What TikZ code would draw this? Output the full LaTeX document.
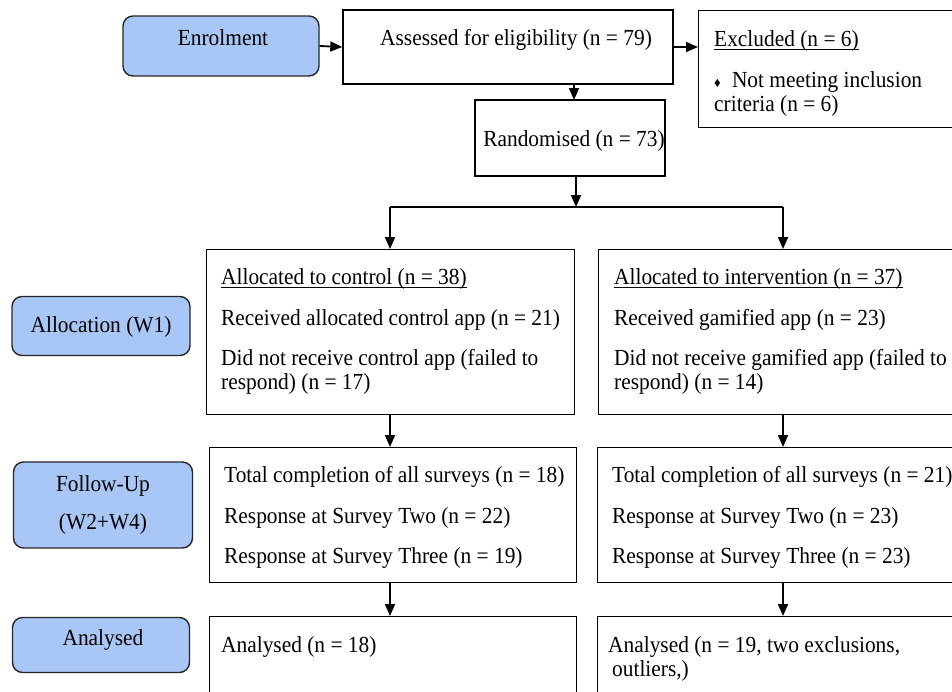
\documentclass[tikz,border=0pt]{standalone}
\usepackage{graphicx}
\usepackage{fontspec}
\setmainfont{Liberation Serif}
\usetikzlibrary{arrows.meta}
\definecolor{stageblue}{RGB}{168,198,246}
\newcommand{\Tx}[1]{\scalebox{0.93}[1]{#1}}
\tikzset{
  box/.style={draw=black, line width=1.4pt, fill=white},
  stage/.style={draw=black!85, line width=1.4pt, fill=stageblue, rounded corners=10pt},
  txt/.style={anchor=base west, inner sep=0pt, font=\fontsize{23}{24}\selectfont},
  ctxt/.style={anchor=base, inner sep=0pt, font=\fontsize{23}{24}\selectfont},
  arr/.style={line width=1.8pt, -{Triangle[length=12pt,width=10pt]}},
  ln/.style={line width=1.8pt},
  uline/.style={line width=1pt}
}
\begin{document}
\begin{tikzpicture}[x=1pt,y=-1pt]
\useasboundingbox (0,0) rectangle (952,691);
\begin{scope}
\clip (0,0) rectangle (952,691);
% stage boxes
\node[stage, minimum width=196pt, minimum height=60pt] (enr) at (221,46) {};
\node[stage, minimum width=178pt, minimum height=59pt] (alloc) at (101,326) {};
\node[stage, minimum width=179pt, minimum height=86pt] (fup) at (103,505) {};
\node[stage, minimum width=177pt, minimum height=55pt] (ana) at (101,645) {};
% main boxes
\node[box, minimum width=330pt, minimum height=74pt] (assess) at (508,47) {};
\node[box, minimum width=270pt, minimum height=117pt, anchor=north west] (excl) at (698,10) {};
\node[box, minimum width=190pt, minimum height=76pt] (rand) at (570,138) {};
\node[box, minimum width=368pt, minimum height=165pt, anchor=north west] (ctrl) at (206,249) {};
\node[box, minimum width=370pt, minimum height=165pt, anchor=north west] (intv) at (598,249) {};
\node[box, minimum width=367pt, minimum height=135pt, anchor=north west] (fc) at (209,447) {};
\node[box, minimum width=370pt, minimum height=135pt, anchor=north west] (fi) at (597,447) {};
\node[box, minimum width=367pt, minimum height=100pt, anchor=north west] (ac) at (209,616) {};
\node[box, minimum width=370pt, minimum height=100pt, anchor=north west] (ai) at (597,616) {};
\end{scope}
% texts
\node[ctxt] (tenr) at (223,45) {\Tx{Enrolment}};
\node[txt] (tass) at (380,45) {\Tx{Assessed for eligibility (n = 79)}};
\node[txt] (tex1) at (714,46) {\Tx{Excluded (n = 6)}};
\node[txt] (tex2) at (714,87) {\Tx{{\fontsize{14}{14}\selectfont ♦}\hspace{12pt}Not meeting inclusion}};
\node[txt] (tex3) at (714,111) {\Tx{criteria (n = 6)}};
\node[ctxt] (trand) at (574,146) {\Tx{Randomised (n = 73)}};
\node[ctxt] (talloc) at (101,332) {\Tx{Allocation (W1)}};
\node[txt] (tc1) at (221,284) {\Tx{Allocated to control (n = 38)}};
\node[txt] (tc2) at (221,325) {\Tx{Received allocated control app (n = 21)}};
\node[txt] (tc3) at (221,365) {\Tx{Did not receive control app (failed to}};
\node[txt] (tc4) at (221,389) {\Tx{respond) (n = 17)}};
\node[txt] (ti1) at (614,284) {\Tx{Allocated to intervention (n = 37)}};
\node[txt] (ti2) at (614,325) {\Tx{Received gamified app (n = 23)}};
\node[txt] (ti3) at (614,365) {\Tx{Did not receive gamified app (failed to}};
\node[txt] (ti4) at (614,389) {\Tx{respond) (n = 14)}};
\node[ctxt] (tf1) at (103,491) {\Tx{Follow-Up}};
\node[ctxt] (tf2) at (103,529) {\Tx{(W2+W4)}};
\node[txt] (tfc1) at (224,482) {\Tx{Total completion of all surveys (n = 18)}};
\node[txt] (tfc2) at (224,523) {\Tx{Response at Survey Two (n = 22)}};
\node[txt] (tfc3) at (224,563) {\Tx{Response at Survey Three (n = 19)}};
\node[txt] (tfi1) at (612,482) {\Tx{Total completion of all surveys (n = 21)}};
\node[txt] (tfi2) at (612,523) {\Tx{Response at Survey Two (n = 23)}};
\node[txt] (tfi3) at (612,563) {\Tx{Response at Survey Three (n = 23)}};
\node[ctxt] (tana) at (103,645) {\Tx{Analysed}};
\node[txt] (tac) at (221,652) {\Tx{Analysed (n = 18)}};
\node[txt] (tai1) at (608,652) {\Tx{Analysed (n = 19, two exclusions,}};
\node[txt] (tai2) at (612,676) {\Tx{outliers,)}};
% underlines
\draw[uline] ([yshift=-3pt]tex1.base west) -- ([yshift=-3pt]tex1.base east);
\draw[uline] ([yshift=-3pt]tc1.base west) -- ([yshift=-3pt]tc1.base east);
\draw[uline] ([yshift=-3pt]ti1.base west) -- ([yshift=-3pt]ti1.base east);
% connectors
\coordinate (split) at (576,207);
\draw[arr] (enr.east) -- (assess.west);
\draw[arr] (assess.east) -- (assess.east -| excl.west);
\draw[arr] (assess.south -| 574,0) -- (574,100);
\draw[arr] (rand.south -| split) -- (split);
\draw[ln] (390,207) -- (783,207);
\draw[arr] (390,207) -- (390,249);
\draw[arr] (783,207) -- (783,249);
\draw[arr] (390,414) -- (390,447);
\draw[arr] (783,414) -- (783,447);
\draw[arr] (390,582) -- (390,616);
\draw[arr] (783,582) -- (783,616);
\end{tikzpicture}
\end{document}
